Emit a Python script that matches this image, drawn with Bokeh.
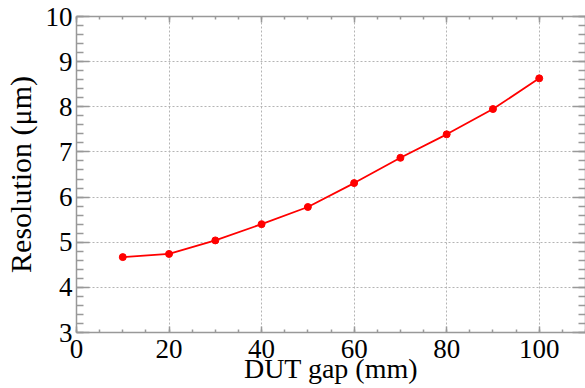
from bokeh.embed import file_html
from bokeh.models import (ColumnDataSource, CustomLabelingPolicy, Grid,
                          LinearAxis, Range1d, SingleIntervalTicker)
from bokeh.plotting import figure
from bokeh.resources import INLINE

# Measured resolution versus the gap between the DUT planes
gap_mm = [10, 20, 30, 40, 50, 60, 70, 80, 90, 100]
resolution_um = [4.67, 4.74, 5.04, 5.40, 5.78, 6.31, 6.87, 7.39, 7.95, 8.63]

x_title = "DUT gap (mm)"
y_title = "Resolution (\u03bcm)"

SERIF = "Liberation Serif"
AXIS_GREY = "#999999"
GRID_GREY = "#b4b4b4"
RED = "#ff0000"

X_MIN, X_MAX = 0, 110
Y_MIN, Y_MAX = 3, 10

p = figure(
    width=585, height=388,
    x_range=Range1d(X_MIN, X_MAX), y_range=Range1d(Y_MIN, Y_MAX),
    output_backend="svg", toolbar_location=None,
    x_axis_type=None, y_axis_type=None,
    min_border_left=76, min_border_right=0,
    min_border_top=16, min_border_bottom=56,
)
p.outline_line_color = None
p.background_fill_color = "white"
p.border_fill_color = "white"

x_ticker = SingleIntervalTicker(interval=20, num_minor_ticks=4)
y_ticker = SingleIntervalTicker(interval=1, num_minor_ticks=5)

# mirror axes on top and right carry ticks only
no_labels = CustomLabelingPolicy(code="return new Set()")


def style_axis(ax, major_in, minor_in, labels):
    ax.axis_line_color = AXIS_GREY
    ax.axis_line_width = 1.5
    ax.major_tick_line_color = AXIS_GREY
    ax.minor_tick_line_color = AXIS_GREY
    ax.major_tick_line_width = 1.5
    ax.minor_tick_line_width = 1.5
    ax.major_tick_in = major_in
    ax.major_tick_out = 0
    ax.minor_tick_in = minor_in
    ax.minor_tick_out = 0
    if labels:
        ax.major_label_text_font = SERIF
        ax.major_label_text_font_size = "27px"
        ax.major_label_text_color = "black"
        ax.axis_label_text_font = SERIF
        ax.axis_label_text_font_style = "normal"
        ax.axis_label_text_color = "black"
    else:
        ax.major_label_policy = no_labels
        ax.major_label_text_font_size = "0px"
        ax.major_label_standoff = 0
        ax.axis_label_standoff = 0


bottom = LinearAxis(ticker=x_ticker, axis_label=x_title)
style_axis(bottom, 6, 3, True)
bottom.axis_label_text_font_size = "28px"
bottom.major_label_standoff = 7
bottom.axis_label_standoff = -8
p.add_layout(bottom, "below")

top = LinearAxis(ticker=x_ticker)
style_axis(top, 6, 3, False)
p.add_layout(top, "above")

left = LinearAxis(ticker=y_ticker, axis_label=y_title)
style_axis(left, 13, 7, True)
left.axis_label_text_font_size = "30px"
left.major_label_standoff = 4
left.axis_label_standoff = 6
p.add_layout(left, "left")

right = LinearAxis(ticker=y_ticker)
style_axis(right, 13, 7, False)
p.add_layout(right, "right")

# dotted grid at the major ticks
for dim, tk in ((0, x_ticker), (1, y_ticker)):
    p.add_layout(Grid(
        dimension=dim, ticker=tk, grid_line_color=GRID_GREY,
        grid_line_dash="2 2", grid_line_width=1,
    ))

src = ColumnDataSource(data=dict(gap=gap_mm, res=resolution_um))
p.line("gap", "res", source=src, line_color=RED, line_width=1.8)
p.scatter("gap", "res", source=src, size=7, fill_color=RED, line_color=RED)

open("out.html", "w").write(file_html(p, INLINE))
